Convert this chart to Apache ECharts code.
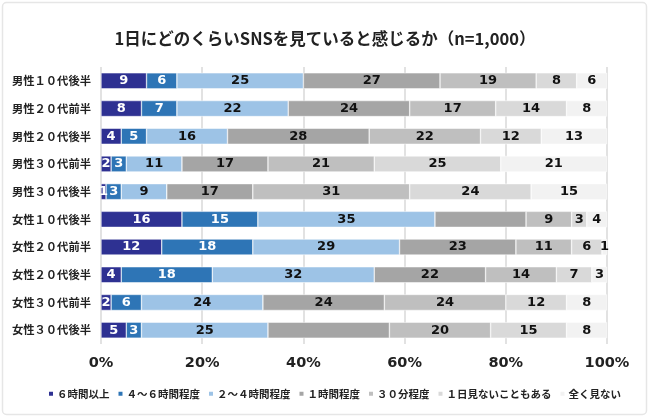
<!DOCTYPE html>
<html><head><meta charset="utf-8">
<script src="https://cdn.jsdelivr.net/npm/echarts@6/dist/echarts.min.js"></script>
<style>html,body{margin:0;padding:0;background:#fff}#c{width:650px;height:419px}</style>
</head><body><div id="c"></div>
<script>
const categories = ['男性１０代後半','男性２０代前半','男性２０代後半','男性３０代前半','男性３０代後半','女性１０代後半','女性２０代前半','女性２０代後半','女性３０代前半','女性３０代後半'];
const seriesNames = ['６時間以上','４～６時間程度','２～４時間程度','１時間程度','３０分程度','１日見ないこともある','全く見ない'];
const s6h   = [9, 8, 4, 2, 1, 16, 12, 4, 2, 5];
const s4to6 = [6, 7, 5, 3, 3, 15, 18, 18, 6, 3];
const s2to4 = [25, 22, 16, 11, 9, 35, 29, 32, 24, 25];
const s1h   = [27, 24, 28, 17, 17, 18, 23, 22, 24, 24];
const s30m  = [19, 17, 22, 21, 31, 9, 11, 14, 24, 20];
const sSome = [8, 14, 12, 25, 24, 3, 6, 7, 12, 15];
const sNone = [6, 8, 13, 21, 15, 4, 1, 3, 8, 8];
const xTicks = [0, 20, 40, 60, 80, 100];
// labels not shown in the reference
const hiddenLabels = {3: [5, 9]};

const colors = ['#2E3192','#2E75B6','#9DC3E6','#A5A5A5','#BFBFBF','#D9D9D9','#F2F2F2'];
const labelColors = ['#fff','#fff','#111','#111','#111','#111','#111'];
const allData = [s6h, s4to6, s2to4, s1h, s30m, sSome, sNone];
const numFont = 'DejaVu Sans, Noto Sans CJK JP, sans-serif';
const jpFont = 'Noto Sans CJK JP, sans-serif';

const chart = echarts.init(document.getElementById('c'), null, {renderer:'canvas'});
const series = allData.map((arr, i) => ({
  name: seriesNames[i],
  type: 'bar',
  stack: 'total',
  barWidth: 16,
  itemStyle: {color: colors[i], borderColor: '#fff', borderWidth: 0.5},
  label: {
    show: true,
    position: 'inside',
    color: labelColors[i],
    fontFamily: numFont,
    fontWeight: 'bold',
    fontSize: 13,
    formatter: p => (hiddenLabels[i] && hiddenLabels[i].includes(p.dataIndex)) ? '' : String(p.value)
  },
  labelLayout: {hideOverlap: false},
  data: arr
}));

chart.setOption({
  animation: false,
  backgroundColor: '#fff',
  title: {
    text: '1日にどのくらいSNSを見ていると感じるか（n=1,000）',
    left: 'center', top: 25,
    textStyle: {fontFamily: jpFont, fontWeight: 'bold', fontSize: 16.5, color: '#222'}
  },
  legend: {
    bottom: 15, left: 42,
    itemWidth: 6, itemHeight: 6, itemGap: 7,
    icon: 'rect',
    textStyle: {fontFamily: jpFont, fontWeight: 'bold', fontSize: 10.5, color: '#222', padding: [0,0,0,-2]},
    data: seriesNames
  },
  grid: {left: 101, right: 43, top: 67, bottom: 75, containLabel: false},
  xAxis: {
    type: 'value', min: 0, max: 100, interval: 20,
    axisLine: {show: false}, axisTick: {show: false},
    splitLine: {lineStyle: {color: '#D9D9D9', width: 1.5}},
    axisLabel: {
      margin: 12,
      fontFamily: numFont, fontWeight: 'bold', fontSize: 14.5, color: '#222',
      formatter: v => xTicks.includes(v) ? v + '%' : ''
    }
  },
  yAxis: {
    type: 'category', inverse: true, data: categories,
    axisLine: {show: false}, axisTick: {show: false},
    axisLabel: {margin: 10, fontFamily: jpFont, fontWeight: 'bold', fontSize: 11.3, color: '#222'}
  },
  graphic: [{
    type: 'rect', z: -10, silent: true,
    shape: {x: 2.5, y: 2.5, width: 644, height: 412, r: 4},
    style: {fill: 'none', stroke: '#E6E6E6', lineWidth: 1.5}
  }],
  series: series
});
</script>
</body></html>
